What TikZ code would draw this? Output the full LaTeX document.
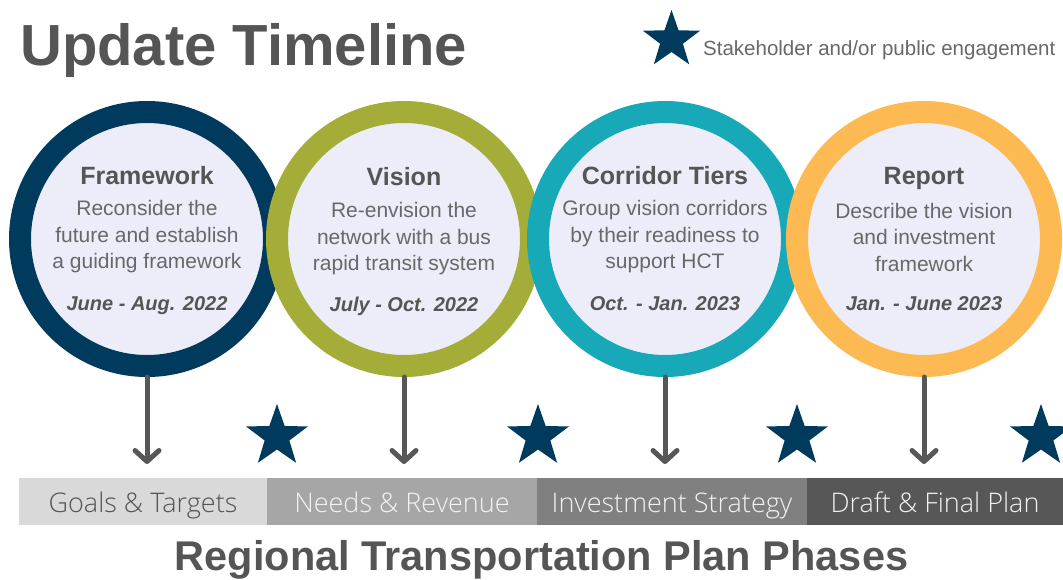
\documentclass[tikz,border=0pt]{standalone}
\usepackage{fontspec}
\setmainfont{Liberation Sans}
\newfontfamily\barfont{Open Sans Light}
\usetikzlibrary{arrows.meta,shapes.geometric,positioning}

\definecolor{ringnavy}{HTML}{003A5D}
\definecolor{ringolive}{HTML}{A3AD38}
\definecolor{ringteal}{HTML}{17A9B8}
\definecolor{ringorange}{HTML}{FDB952}
\definecolor{lavender}{HTML}{EDEDF9}
\definecolor{txtdark}{HTML}{555555}
\definecolor{txtgray}{HTML}{686868}
\definecolor{arrowgray}{HTML}{575757}

\tikzset{
  phase/.style={circle, minimum size=254pt, line width=22pt, fill=lavender, inner sep=0pt},
  ttl/.style={font=\bfseries\fontsize{25}{30}\selectfont, text=txtdark, anchor=base},
  desc/.style={font=\fontsize{21}{26.5}\selectfont, text=txtgray, align=center},
  when/.style={font=\bfseries\itshape\fontsize{20}{24}\selectfont, text=txtdark, anchor=base},
  seg/.style={minimum height=47pt, text height=34pt, text depth=13pt, inner sep=0pt, outer sep=0pt, font=\barfont\fontsize{27}{30}\selectfont, text=white!95!black},
  engage/.style={star, star points=5, star point ratio=2.5, fill=ringnavy, inner sep=0pt, minimum size=65pt},
  down/.style={-{Straight Barb[length=11pt,width=24pt,round]}, line width=5pt, line cap=round, draw=arrowgray, shorten >=14pt}
}

\begin{document}
\begin{tikzpicture}[x=1pt, y=-1pt]
    \useasboundingbox (0,0) rectangle (1063,579);
    \fill[white] (0,0) rectangle (1063,579);

    % Heading and key
    \node[anchor=base west, font=\bfseries\fontsize{58}{64}\selectfont, text=txtdark, inner sep=0pt] (head) at (20,65) {Update Timeline};
    \node[engage, minimum size=60pt] (key) at (671.5,40) {};
    \node[anchor=base west, font=\fontsize{20.5}{24}\selectfont, text=txtgray, inner sep=0pt] (keytxt) at (703,55) {Stakeholder and/or public engagement};

    % Circles
    \node[phase, draw=ringnavy] (fw) at (147,239) {};
    \node[phase, draw=ringolive] (vis) at (404,239) {};
    \node[phase, draw=ringteal] (ct) at (665,239) {};
    \node[phase, draw=ringorange] (rep) at (924,239) {};

    % Circle texts
    \node[ttl] (fwtitle) at (147,184) {Framework};
    \node[desc] (fwdesc) at (147,237) {Reconsider the\\future and establish\\a guiding framework};
    \node[when] (fwdate) at (147,310) {June - Aug. 2022};

    \node[ttl] (vistitle) at (404,185) {Vision};
    \node[desc] (visdesc) at (404,239) {Re-envision the\\network with a bus\\rapid transit system};
    \node[when] (visdate) at (404,311) {July - Oct. 2022};

    \node[ttl] (cttitle) at (665,184) {Corridor Tiers};
    \node[desc] (ctdesc) at (665,237) {Group vision corridors\\by their readiness to\\support HCT};
    \node[when] (ctdate) at (665,310) {Oct. - Jan. 2023};

    \node[ttl] (reptitle) at (924,184) {Report};
    \node[desc] (repdesc) at (924,237) {Describe the vision\\and investment\\framework};
    \node[when] (repdate) at (924,310) {Jan. - June 2023};

    % Phase bar
    \node[seg, fill=black!15, text=txtdark, minimum width=248pt] (goals) at (143,501.5) {Goals \& Targets};
    \node[seg, fill=black!35, minimum width=270pt, right=0pt of goals] (needs) {Needs \& Revenue};
    \node[seg, fill=black!50, minimum width=270pt, right=0pt of needs] (invest) {Investment Strategy};
    \node[seg, fill=black!66, minimum width=256pt, right=0pt of invest] (draft) {Draft \& Final Plan};

    % Arrows
    \draw[down] (fw.south) -- (fw.south |- goals.north);
    \draw[down] (vis.south) -- (vis.south |- needs.north);
    \draw[down] (ct.south) -- (ct.south |- invest.north);
    \draw[down] (rep.south) -- (rep.south |- draft.north);

    % Stars
    \node[engage] (s1) at (277,436.5) {};
    \node[engage] (s2) at (538,436.5) {};
    \node[engage] (s3) at (797,436.5) {};
    \node[engage] (s4) at (1041,436.5) {};

    % Footer
    \node[anchor=base, font=\bfseries\fontsize{41.5}{48}\selectfont, text=txtdark, inner sep=0pt] (foot) at (541.5,570) {Regional Transportation Plan Phases};
\end{tikzpicture}
\end{document}
